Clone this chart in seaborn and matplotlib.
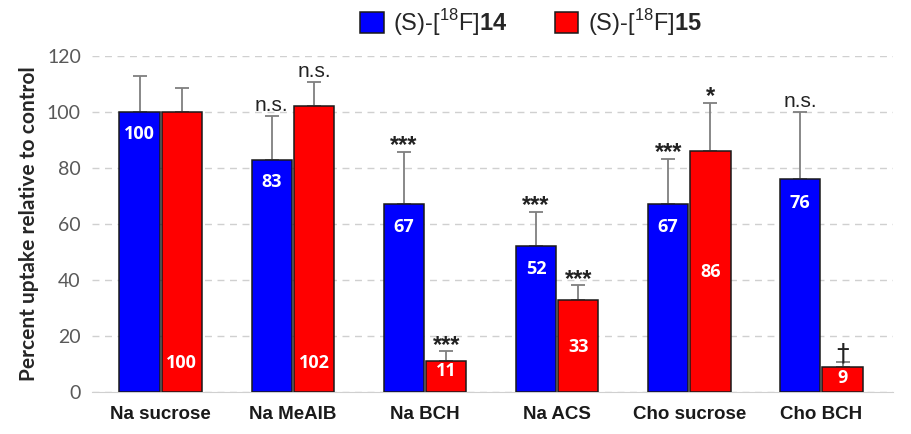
import pandas as pd
import numpy as np
import matplotlib.pyplot as plt
import seaborn as sns

# Values
conditions = ['Na sucrose', 'Na MeAIB', 'Na BCH', 'Na ACS', 'Cho sucrose', 'Cho BCH']
uptake_14 = [100, 83, 67, 52, 67, 76]
uptake_15 = [100, 102, 11, 33, 86, 9]
err_14 = [13, 15.5, 18.8, 12.4, 16.3, 24]
err_15 = [8.6, 8.7, 3.6, 5.2, 17.3, 1.8]
sig_14 = ['', 'n.s.', '***', '***', '***', 'n.s.']
sig_15 = ['', 'n.s.', '***', '***', '*', '†']
series = ['(S)-[$^{18}$F]$\\mathbf{14}$', '(S)-[$^{18}$F]$\\mathbf{15}$']

# where the numbers sit inside the bars
label_y_14 = [92, 75, 59, 44, 59, 67.5]
label_y_15 = [10.5, 10.5, 7.5, 16, 43, 5]

sns.set_style('white')
plt.rcParams['font.family'] = ['Liberation Sans', 'DejaVu Sans']
plt.rcParams['mathtext.fontset'] = 'custom'
plt.rcParams['mathtext.rm'] = 'Liberation Sans'
plt.rcParams['mathtext.bf'] = 'Liberation Sans:bold'

df = pd.DataFrame({
    'Condition': conditions * 2,
    'Uptake': uptake_14 + uptake_15,
    'Tracer': [series[0]] * 6 + [series[1]] * 6,
})

fig = plt.figure(figsize=(9.11, 4.34), dpi=100)
ax = fig.add_axes([0.101, 0.097, 0.879, 0.774])

sns.barplot(data=df, x='Condition', y='Uptake', hue='Tracer',
            palette=['#0000ff', '#ff0000'], saturation=1, width=0.64, gap=0.05,
            edgecolor='#1a1a1a', linewidth=1.1, errorbar=None, ax=ax, zorder=3)

# bars come out grouped by hue
patches = ax.patches[:12]
bars_14 = patches[:6]
bars_15 = patches[6:]

for bars, vals, errs, sigs, ly in [(bars_14, uptake_14, err_14, sig_14, label_y_14),
                                   (bars_15, uptake_15, err_15, sig_15, label_y_15)]:
    xs = [b.get_x() + b.get_width() / 2 for b in bars]
    ax.errorbar(xs, vals, yerr=[np.zeros(len(vals)), errs], fmt='none',
                ecolor='#7f7f7f', elinewidth=1.3, capsize=5, capthick=1.3, zorder=2)
    for x, v, e, s, y in zip(xs, vals, errs, sigs, ly):
        ax.text(x, y, str(v), color='white', ha='center', va='center',
                fontsize=13, fontweight='bold', family=['Open Sans', 'DejaVu Sans'], zorder=5)
        if s:
            if s == 'n.s.':
                ax.annotate(s, (x, v + e), xytext=(0, 1), textcoords='offset points',
                            ha='center', va='bottom', fontsize=15, color='#222222')
            elif s == '†':
                ax.annotate(s, (x, v + e), xytext=(0, -3), textcoords='offset points',
                            ha='center', va='bottom', fontsize=18, color='#222222',
                            family=['DejaVu Sans'])
            else:
                ax.annotate(s, (x, v + e), xytext=(0, -4), textcoords='offset points',
                            ha='center', va='bottom', fontsize=17, color='#222222',
                            fontweight='bold')

ax.set_ylim(0, 120)
ax.set_xlim(-0.52, 5.54)
ax.set_yticks(range(0, 121, 20))
ax.yaxis.grid(True, linestyle=(0, (5, 4)), color='#d0d0d0', linewidth=1, zorder=0)
ax.set_axisbelow(True)
sns.despine(ax=ax, left=True, top=True, right=True)
ax.spines['bottom'].set_color('#d0d0d0')
ax.tick_params(axis='both', length=0)
ax.tick_params(axis='y', labelsize=14, labelcolor='#595959', pad=8)
for lab in ax.get_yticklabels():
    lab.set_family(['Lato', 'DejaVu Sans'])
ax.tick_params(axis='x', labelsize=13.5, pad=10)
for lab in ax.get_xticklabels():
    lab.set_fontweight('bold')
    lab.set_color('#1a1a1a')
    lab.set_family(['Liberation Sans', 'DejaVu Sans'])
ax.set_xlabel('')
ax.set_ylabel('Percent uptake relative to control', fontsize=15, fontweight='bold',
              family=['Lato', 'DejaVu Sans'], labelpad=6)

leg = ax.legend(loc='upper center', bbox_to_anchor=(0.548, 1.21), ncol=2, frameon=False,
                fontsize=17, handlelength=1.0, handleheight=1.0, columnspacing=2.0,
                handletextpad=0.4)

fig.savefig('out.png', dpi=100)
